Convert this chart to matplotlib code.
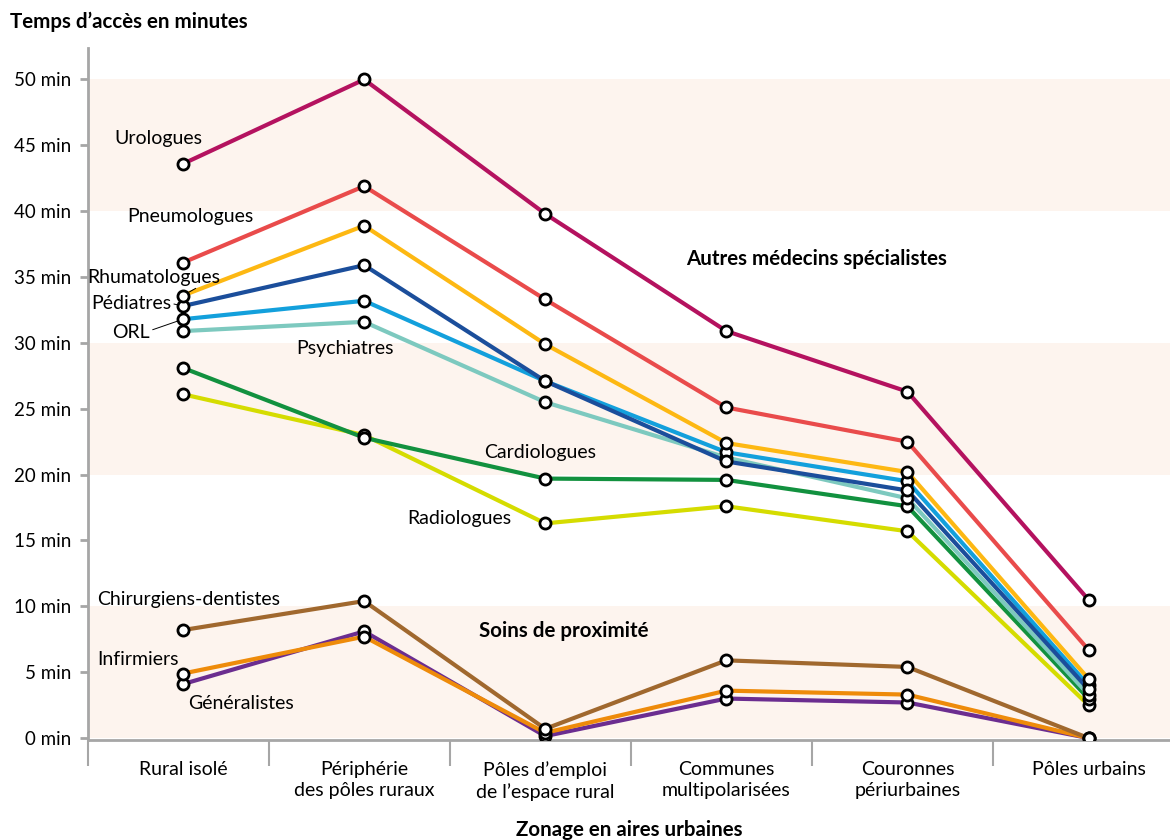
import numpy as np
import matplotlib
matplotlib.use('Agg')
import matplotlib.pyplot as plt

plt.rcParams['font.family'] = ['Lato', 'DejaVu Sans']

# categories (zonage en aires urbaines)
categories = ['Rural isolé', 'Périphérie\ndes pôles ruraux', 'Pôles d\u2019emploi\nde l\u2019espace rural',
              'Communes\nmultipolarisées', 'Couronnes\npériurbaines', 'Pôles urbains']

# temps d'accès en minutes
urologues = [43.6, 50.0, 39.8, 30.9, 26.3, 10.5]
pneumologues = [36.1, 41.9, 33.3, 25.1, 22.5, 6.7]
rhumatologues = [33.6, 38.9, 29.9, 22.4, 20.2, 4.5]
pediatres = [32.8, 35.9, 27.1, 21.0, 18.8, 3.7]
orl = [31.8, 33.2, 27.1, 21.7, 19.5, 4.0]
psychiatres = [30.9, 31.6, 25.5, 21.3, 18.2, 3.3]
cardiologues = [28.1, 22.8, 19.7, 19.6, 17.6, 3.0]
radiologues = [26.1, 23.0, 16.3, 17.6, 15.7, 2.5]
dentistes = [8.2, 10.4, 0.7, 5.9, 5.4, 0.0]
infirmiers = [4.9, 7.7, 0.4, 3.6, 3.3, 0.0]
generalistes = [4.1, 8.1, 0.15, 3.0, 2.7, 0.0]

series = [
    (radiologues, '#D5DC00'),
    (cardiologues, '#12913F'),
    (psychiatres, '#7DC9BF'),
    (orl, '#13A0DC'),
    (pediatres, '#1B4E9B'),
    (rhumatologues, '#FDB813'),
    (pneumologues, '#E94B4B'),
    (urologues, '#B4125F'),
    (generalistes, '#6B2D90'),
    (infirmiers, '#EE8B0A'),
    (dentistes, '#A0682E'),
]

x = np.arange(len(categories))
grey = '#A6A6A6'

fig = plt.figure(figsize=(11.7, 8.4), dpi=100)
ax = fig.add_axes([0.0752, 0.119, 0.9248, 0.824])

for lo, hi in [(0, 10), (20, 30), (40, 50)]:
    ax.axhspan(lo, hi, color='#FDF4EE', lw=0, zorder=0)

for vals, col in series:
    ax.plot(x, vals, color=col, lw=3, zorder=2, solid_capstyle='round')
for vals, col in series:
    ax.plot(x, vals, ls='none', marker='o', ms=8, mfc='white', mec='black', mew=2, zorder=3)

ax.set_xlim(-0.525, 5.45)
ax.set_ylim(-0.15, 52.4)

for s in ['top', 'right']:
    ax.spines[s].set_visible(False)
for s in ['left', 'bottom']:
    ax.spines[s].set_color(grey)
    ax.spines[s].set_linewidth(2)

ax.set_yticks(np.arange(0, 51, 5))
ax.set_yticklabels(['%d min' % v for v in range(0, 51, 5)], fontsize=13.5)
ax.tick_params(axis='y', length=6, width=2, color=grey, pad=6)

ax.set_xticks(x)
ax.set_xticklabels(categories, fontsize=14, linespacing=1.3)
ax.tick_params(axis='x', which='major', length=0, pad=15)
ax.set_xticks(x - 0.525, minor=True)
ax.tick_params(axis='x', which='minor', length=19, width=1.5, color=grey)

# étiquettes des séries
lab = dict(fontsize=14, ha='center', va='center')
ax.text(-0.138, 45.5, 'Urologues', **lab)
ax.text(0.039, 39.6, 'Pneumologues', **lab)
ax.text(0.895, 29.6, 'Psychiatres', **lab)
ax.text(1.972, 21.7, 'Cardiologues', **lab)
ax.text(1.525, 16.7, 'Radiologues', **lab)
ax.text(0.028, 10.5, 'Chirurgiens-dentistes', **lab)
ax.text(-0.249, 6.0, 'Infirmiers', **lab)
ax.text(0.32, 2.66, 'Généralistes', **lab)

leader = dict(arrowstyle='-', lw=0.7, color='black', shrinkA=0, shrinkB=4)
ax.annotate('Rhumatologues', xy=(0, rhumatologues[0]), xytext=(-0.16, 35.0),
            arrowprops=dict(leader, relpos=(0.85, 0.0)), **lab)
ax.annotate('Pédiatres', xy=(0, pediatres[0]), xytext=(-0.287, 33.0),
            arrowprops=dict(leader, relpos=(1.0, 0.5)), **lab)
ax.annotate('ORL', xy=(0, orl[0]), xytext=(-0.287, 30.8),
            arrowprops=dict(leader, relpos=(1.0, 0.6)), **lab)

ax.text(3.497, 36.4, 'Autres médecins spécialistes', fontsize=14.8, fontweight='bold',
        ha='center', va='center')
ax.text(2.1, 8.1, 'Soins de proximité', fontsize=14.8, fontweight='bold',
        ha='center', va='center')

fig.text(0.0085, 0.974, 'Temps d\u2019accès en minutes', fontsize=14.8, fontweight='bold',
         ha='left', va='center')
fig.text(0.538, 0.012, 'Zonage en aires urbaines', fontsize=14.8, fontweight='bold',
         ha='center', va='center')

fig.savefig('out.png', dpi=100)
